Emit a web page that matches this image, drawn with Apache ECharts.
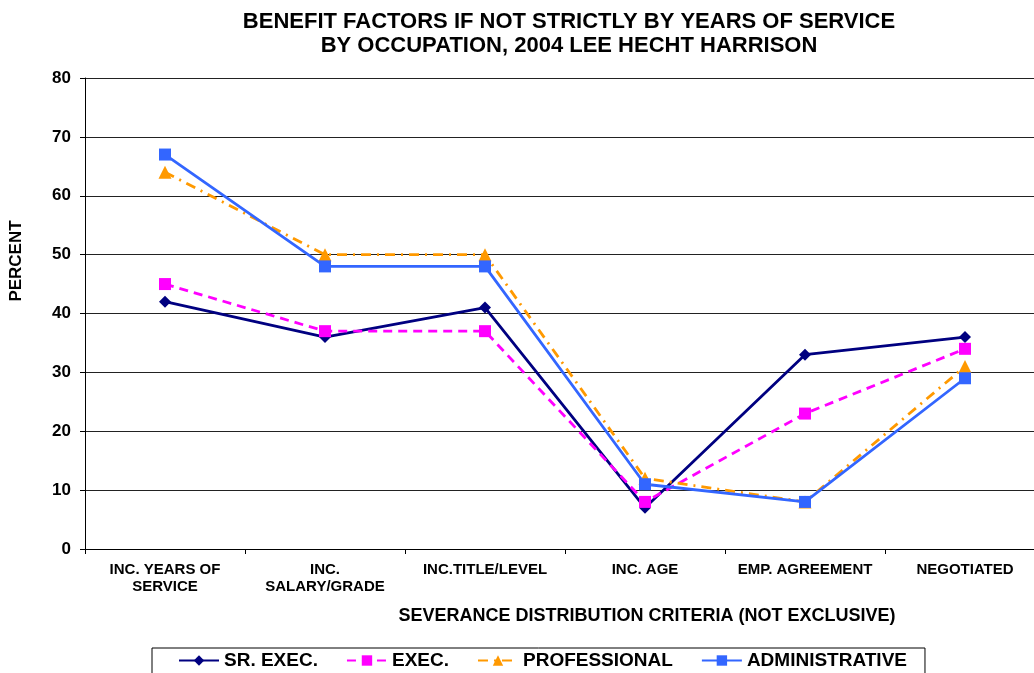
<!DOCTYPE html>
<html><head><meta charset="utf-8">
<script src="https://cdn.jsdelivr.net/npm/echarts@6/dist/echarts.min.js"></script>
<style>html,body{margin:0;padding:0;background:#fff}#c{width:1034px;height:673px}</style>
</head><body><div id="c"></div>
<script>
const categories = ["INC. YEARS OF\nSERVICE", "INC.\nSALARY/GRADE", "INC.TITLE/LEVEL", "INC. AGE", "EMP. AGREEMENT", "NEGOTIATED"];
const srExec = [42, 36, 41, 7, 33, 36];
const exec = [45, 37, 37, 8, 23, 34];
const professional = [64, 50, 50, 12, 8, 31];
const administrative = [67, 48, 48, 11, 8, 29];
const seriesNames = ["SR. EXEC.", "EXEC.", "PROFESSIONAL", "ADMINISTRATIVE"];

const FONT = "'Liberation Sans', Arial, sans-serif";
const chart = echarts.init(document.getElementById('c'), null, {renderer: 'canvas'});
function mk(name, data, color, symbol, size, type) {
  return {
    name, type: 'line', data, symbol, symbolSize: size,
    itemStyle: {color},
    lineStyle: {color, width: 2.8, type},
    emphasis: {disabled: true}, animation: false
  };
}
chart.setOption({
  animation: false,
  title: [{
    text: 'BENEFIT FACTORS IF NOT STRICTLY BY YEARS OF SERVICE\nBY OCCUPATION, 2004 LEE HECHT HARRISON',
    left: 564, top: 5, textAlign: 'center',
    textStyle: {fontFamily: FONT, fontWeight: 'bold', fontSize: 22, lineHeight: 24, color: '#000'}
  }, {
    text: 'SEVERANCE DISTRIBUTION CRITERIA (NOT EXCLUSIVE)',
    left: 642, top: 602, textAlign: 'center',
    textStyle: {fontFamily: FONT, fontWeight: 'bold', fontSize: 18, color: '#000'}
  }],
  graphic: [{
    type: 'text', x: 16, y: 261, rotation: Math.PI / 2,
    style: {text: 'PERCENT', fontFamily: FONT, fontWeight: 'bold', fontSize: 17, fill: '#000', align: 'center', verticalAlign: 'middle'}
  }],
  legend: {
    data: seriesNames,
    left: 152, top: 648, width: 776,
    padding: [3, 18, 10, 26],
    borderColor: '#000', borderWidth: 1,
    itemWidth: 40, itemHeight: 13, itemGap: 28,
    textStyle: {fontFamily: FONT, fontWeight: 'bold', fontSize: 19, color: '#000'}
  },
  grid: {left: 85, top: 78, width: 960, height: 471, containLabel: false, outerBoundsMode: 'none'},
  xAxis: {
    type: 'category', data: categories, boundaryGap: true,
    axisLine: {lineStyle: {color: '#000', width: 1}},
    axisTick: {show: true, length: 5, lineStyle: {color: '#000'}},
    axisLabel: {fontFamily: FONT, fontWeight: 'bold', fontSize: 15, color: '#000', margin: 12, lineHeight: 17, interval: 0}
  },
  yAxis: {
    type: 'value', min: 0, max: 80, interval: 10,
    axisLine: {show: true, lineStyle: {color: '#000', width: 1}},
    axisTick: {show: true, length: 5, inside: false, lineStyle: {color: '#000'}},
    axisLabel: {fontFamily: FONT, fontWeight: 'bold', fontSize: 17, color: '#000', margin: 14},
    splitLine: {show: true, lineStyle: {color: '#222', width: 1}}
  },
  series: [
    mk(seriesNames[0], srExec, '#000080', 'diamond', 12, 'solid'),
    mk(seriesNames[1], exec, '#FF00FF', 'rect', 12, [9, 6]),
    mk(seriesNames[2], professional, '#FF9900', 'triangle', 13, [10, 6, 2, 6]),
    mk(seriesNames[3], administrative, '#3366FF', 'rect', 12, 'solid')
  ]
});
</script></body></html>
